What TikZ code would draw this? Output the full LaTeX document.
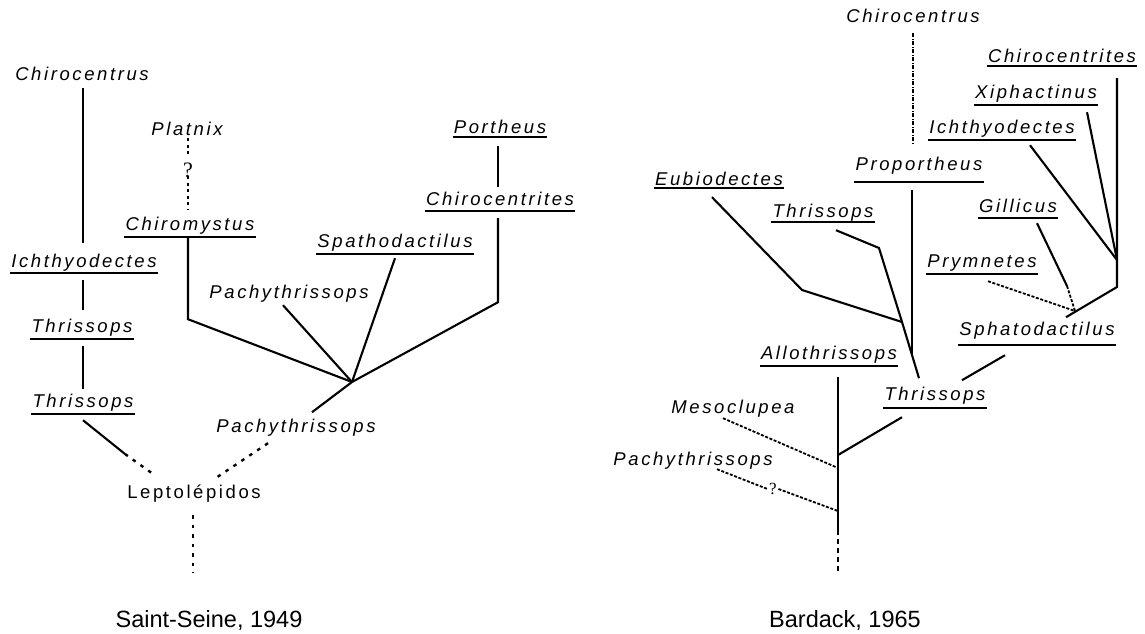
\documentclass[tikz,border=0pt]{standalone}
\usepackage{fontspec}
\newfontfamily\taxfont[LetterSpace=14]{Liberation Sans}
\newfontfamily\capfont{Liberation Sans}
\newfontfamily\qfont{Liberation Serif}

\tikzset{
	taxon/.style={font=\taxfont\fontsize{18.5}{21}\selectfont\itshape, inner sep=0pt, text depth=0pt, anchor=base},
	taxonup/.style={taxon, font=\taxfont\fontsize{18.5}{21}\selectfont},
	ul/.style={append after command={\pgfextra{\let\ulnode\tikzlastnode}
		([shift={(-1,#1)}]\ulnode.south west) edge[rule] ([shift={(1,#1)}]\ulnode.south east)}},
	ul/.default=7,
	rule/.style={line width=1.6pt},
	branch/.style={line width=2.1pt},
	sparse/.style={line width=2.4pt, dash pattern=on 3.5pt off 6pt},
	dense/.style={line width=2.8pt, dash pattern=on 3pt off 3.5pt},
	fine/.style={line width=1.8pt, dash pattern=on 3pt off 1.6pt},
	dashdot/.style={line width=1.7pt, dash pattern=on 4pt off 1.5pt on 1pt off 1.5pt},
	query/.style={font=\qfont\fontsize{22}{22}\selectfont, inner sep=0pt, text depth=0pt},
	caption/.style={font=\capfont\fontsize{23.5}{28}\selectfont, anchor=base}
}

\begin{document}
\begin{tikzpicture}[x=1pt,y=-1pt]
	\useasboundingbox (0,0) rectangle (1145,633);

	% Saint-Seine
	\node[taxon] (chiroL) at (82,80) {Chirocentrus};
	\node[taxon,ul=6] (ichL) at (84,267) {Ichthyodectes};
	\node[taxon,ul] (thrA) at (82,332) {Thrissops};
	\node[taxon,ul] (thrB) at (83,407) {Thrissops};
	\node[taxonup] (lepto) at (194,498) {Leptolépidos};
	\node[taxon] (pachyL) at (296,432) {Pachythrissops};
	\node[taxon] (platnix) at (187,135) {Platnix};
	\node[query] (qL) at (188,170) {?};
	\node[taxon,ul] (chiromys) at (190,230) {Chiromystus};
	\node[taxon] (pachyU) at (289,298) {Pachythrissops};
	\node[taxon,ul] (spatho) at (395,247) {Spathodactilus};
	\node[taxon,ul=4] (portheus) at (500,133) {Portheus};
	\node[taxon,ul=6] (chirocL) at (500,205) {Chirocentrites};
	\node[caption] (saint) at (209,627) {Saint-Seine, 1949};

	\coordinate (nodeL) at (352,382);
	\coordinate (lt) at (125,454);
	\coordinate (rootL) at (193,573);

	\draw[branch] ([shift={(1,8)}]chiroL.south) -- ([shift={(-1,-24)}]ichL.south);
	\draw[branch] ([shift={(-1,13)}]ichL.south) -- ([shift={(1,-22)}]thrA.south);
	\draw[branch] ([shift={(1,14)}]thrA.south) -- ([shift={(0,-18)}]thrB.south);
	\draw[branch] ([shift={(0,13)}]thrB.south) -- (lt);
	\draw[sparse] (lt) -- ([shift={(-42,-25)}]lepto.south);
	\draw[sparse] ([shift={(-28,11)}]pachyL.south) -- ([shift={(23,-21)}]lepto.south);
	\draw[sparse] ([shift={(-1,17)}]lepto.south) -- (rootL);
	\draw[branch] ([shift={(16,-20)}]pachyL.south) -- (nodeL);
	\draw[branch] ([shift={(-2,7)}]chiromys.south) -- ++(0,82) -- (nodeL);
	\draw[branch] ([shift={(-6,7)}]pachyU.south) -- (nodeL);
	\draw[branch] ([shift={(0,11)}]spatho.south) -- (nodeL);
	\draw[branch] ([shift={(-2,13)}]portheus.south) -- ([shift={(-2,-18)}]chirocL.south);
	\draw[branch] ([shift={(-2,13)}]chirocL.south) -- ++(0,84) -- (nodeL);
	\draw[dense] ([shift={(1,3)}]platnix.south) -- ([shift={(0,-6)}]qL.north);
	\draw[dense] ([shift={(0,-1)}]qL.south) -- ([shift={(-2,-20)}]chiromys.south);

	% Bardack
	\node[taxon] (chiroR) at (913,22) {Chirocentrus};
	\node[taxon,ul=12] (propor) at (919,170) {Proportheus};
	\node[taxon,ul=3] (eubio) at (719,185) {Eubiodectes};
	\node[taxon,ul=5] (thrRU) at (823,217) {Thrissops};
	\node[taxon,ul=4] (chirocR) at (1062,62) {Chirocentrites};
	\node[taxon,ul] (xiph) at (1036,98) {Xiphactinus};
	\node[taxon,ul] (ichR) at (1002,133) {Ichthyodectes};
	\node[taxon,ul=6] (gill) at (1018,212) {Gillicus};
	\node[taxon,ul] (prym) at (982,267) {Prymnetes};
	\node[taxon,ul=10] (sphato) at (1037,335) {Sphatodactilus};
	\node[taxon,ul=8] (thrRL) at (935,400) {Thrissops};
	\node[taxon,ul] (allo) at (829,359) {Allothrissops};
	\node[taxon] (meso) at (733,413) {Mesoclupea};
	\node[taxon] (pachyR) at (693,465) {Pachythrissops};
	\node[query,font=\qfont\fontsize{17}{17}\selectfont,inner xsep=1.5pt] (qR) at (773,489) {?};
	\node[caption] (bardack) at (845,627) {Bardack, 1965};

	\coordinate (eb) at (802,290);
	\coordinate (tb) at (879,248);
	\coordinate (jE) at (902,322);
	\coordinate (jP) at (912,355);
	\coordinate (jC) at (1117,287);
	\coordinate (jX) at (1117,260);
	\coordinate (gm) at (1067,286);
	\coordinate (jG) at (1075,311);
	\coordinate (jT) at (838,455);
	\coordinate (jM) at (838,468);
	\coordinate (jQ) at (838,511);
	\coordinate (rootR) at (838,530);
	\coordinate (baseR) at (838,573);

	\draw[dashdot] ([shift={(0,11)}]chiroR.south) -- ([shift={(-6,-25)}]propor.south);
	\draw[branch] ([shift={(-7,20)}]propor.south) -- (jP);
	\draw[branch] ([shift={(-7,12)}]eubio.south) -- (eb) -- (jE);
	\draw[branch] ([shift={(13,13)}]thrRU.south) -- (tb) -- (jE);
	\draw[branch] (jE) -- ([shift={(-16,-22)}]thrRL.south);
	\draw[branch] ([shift={(27,-20)}]thrRL.south) -- ([shift={(-32,20)}]sphato.south);
	\draw[branch] ([shift={(29,-18)}]sphato.south) -- (jC) -- ([shift={(55,16)}]chirocR.south);
	\draw[branch] ([shift={(28,12)}]ichR.south) -- (jX);
	\draw[branch] ([shift={(51,14)}]xiph.south) -- (jX);
	\draw[branch] ([shift={(19,11)}]gill.south) -- (gm);
	\draw[fine] (gm) -- (jG);
	\draw[fine] ([shift={(6,14)}]prym.south) -- (jG);
	\draw[branch] ([shift={(9,18)}]allo.south) -- (rootR);
	\draw[line width=1.8pt, dash pattern=on 5pt off 4pt] (rootR) -- (baseR);
	\draw[branch] (jT) -- ([shift={(-33,17)}]thrRL.south);
	\draw[fine] ([shift={(-10,5)}]meso.south) -- (jM);
	\draw[fine] ([shift={(24,4)}]pachyR.south) -- (qR.west);
	\draw[fine] (qR.east) -- (jQ);
\end{tikzpicture}
\end{document}
